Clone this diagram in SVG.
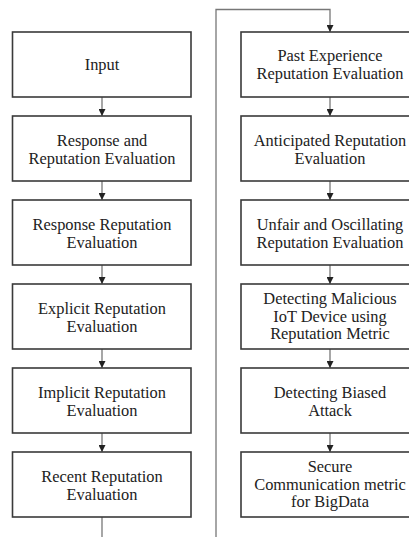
<svg xmlns="http://www.w3.org/2000/svg" width="409" height="537" viewBox="0 0 409 537">
  <style>
    .box { fill: #ffffff; stroke: #3a3a3a; stroke-width: 1.6; }
    .lbl { font-family: "Liberation Serif", "Times New Roman", serif; font-size: 16.4px; fill: #222222; text-anchor: middle; }
    .wire { fill: none; stroke: #777777; stroke-width: 1.3; }
  </style>
  <defs>
    <marker id="arrow" markerWidth="8" markerHeight="7" refX="7" refY="3.5" orient="auto" markerUnits="userSpaceOnUse">
      <path d="M0,0 L7,3.5 L0,7 Z" fill="#222222"/>
    </marker>
  </defs>
  <rect width="409" height="537" fill="#ffffff"/>

  <!-- connectors -->
  <g id="connectors">
    <line class="wire" x1="102" y1="97" x2="102" y2="116" marker-end="url(#arrow)"/>
    <line class="wire" x1="102" y1="181" x2="102" y2="200" marker-end="url(#arrow)"/>
    <line class="wire" x1="102" y1="265" x2="102" y2="284" marker-end="url(#arrow)"/>
    <line class="wire" x1="102" y1="349" x2="102" y2="368" marker-end="url(#arrow)"/>
    <line class="wire" x1="102" y1="433" x2="102" y2="452" marker-end="url(#arrow)"/>
    <line class="wire" x1="102" y1="517" x2="102" y2="537"/>
    <path class="wire" d="M216,537 L216,9.5 L330,9.5 L330,32" marker-end="url(#arrow)"/>
    <line class="wire" x1="330" y1="97" x2="330" y2="116" marker-end="url(#arrow)"/>
    <line class="wire" x1="330" y1="181" x2="330" y2="200" marker-end="url(#arrow)"/>
    <line class="wire" x1="330" y1="265" x2="330" y2="284" marker-end="url(#arrow)"/>
    <line class="wire" x1="330" y1="349" x2="330" y2="368" marker-end="url(#arrow)"/>
    <line class="wire" x1="330" y1="433" x2="330" y2="452" marker-end="url(#arrow)"/>
  </g>

  <!-- left column -->
  <g id="input">
    <rect class="box" x="12.5" y="32" width="178.5" height="65"/>
    <text class="lbl" x="102" y="70">Input</text>
  </g>
  <g id="response-and-reputation">
    <rect class="box" x="12.5" y="116" width="178.5" height="65"/>
    <text class="lbl" x="102" y="146">Response and</text>
    <text class="lbl" x="102" y="164">Reputation Evaluation</text>
  </g>
  <g id="response-reputation">
    <rect class="box" x="12.5" y="200" width="178.5" height="65"/>
    <text class="lbl" x="102" y="230">Response Reputation</text>
    <text class="lbl" x="102" y="248">Evaluation</text>
  </g>
  <g id="explicit-reputation">
    <rect class="box" x="12.5" y="284" width="178.5" height="65"/>
    <text class="lbl" x="102" y="314">Explicit Reputation</text>
    <text class="lbl" x="102" y="332">Evaluation</text>
  </g>
  <g id="implicit-reputation">
    <rect class="box" x="12.5" y="368" width="178.5" height="65"/>
    <text class="lbl" x="102" y="398">Implicit Reputation</text>
    <text class="lbl" x="102" y="416">Evaluation</text>
  </g>
  <g id="recent-reputation">
    <rect class="box" x="12.5" y="452" width="178.5" height="65"/>
    <text class="lbl" x="102" y="482">Recent Reputation</text>
    <text class="lbl" x="102" y="500">Evaluation</text>
  </g>

  <!-- right column -->
  <g id="past-experience">
    <rect class="box" x="241" y="32" width="178.5" height="65"/>
    <text class="lbl" x="330" y="61">Past Experience</text>
    <text class="lbl" x="330" y="79">Reputation Evaluation</text>
  </g>
  <g id="anticipated-reputation">
    <rect class="box" x="241" y="116" width="178.5" height="65"/>
    <text class="lbl" x="330" y="146">Anticipated Reputation</text>
    <text class="lbl" x="330" y="164">Evaluation</text>
  </g>
  <g id="unfair-oscillating">
    <rect class="box" x="241" y="200" width="178.5" height="65"/>
    <text class="lbl" x="330" y="230">Unfair and Oscillating</text>
    <text class="lbl" x="330" y="248">Reputation Evaluation</text>
  </g>
  <g id="detecting-malicious">
    <rect class="box" x="241" y="284" width="178.5" height="65"/>
    <text class="lbl" x="330" y="304">Detecting Malicious</text>
    <text class="lbl" x="330" y="321.5">IoT Device using</text>
    <text class="lbl" x="330" y="339">Reputation Metric</text>
  </g>
  <g id="detecting-biased">
    <rect class="box" x="241" y="368" width="178.5" height="65"/>
    <text class="lbl" x="330" y="398">Detecting Biased</text>
    <text class="lbl" x="330" y="416">Attack</text>
  </g>
  <g id="secure-communication">
    <rect class="box" x="241" y="452" width="178.5" height="65"/>
    <text class="lbl" x="330" y="472">Secure</text>
    <text class="lbl" x="330" y="489.5">Communication metric</text>
    <text class="lbl" x="330" y="507">for BigData</text>
  </g>
</svg>
